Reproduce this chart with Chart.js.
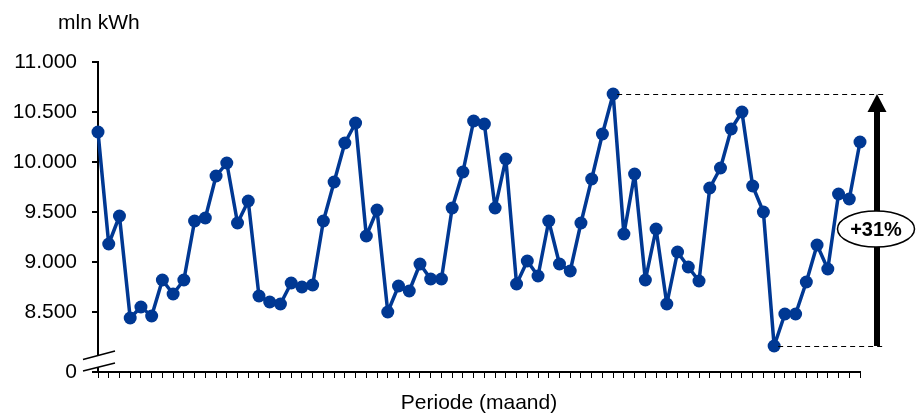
<!DOCTYPE html>
<html>
<head>
<meta charset="utf-8">
<title>Elektriciteitsverbruik per maand</title>
<script src="https://cdn.jsdelivr.net/npm/chart.js@4.4.1/dist/chart.umd.min.js"></script>
<style>
    html, body { margin: 0; padding: 0; background: #fff; }
    .chart-box { width: 916px; height: 414px; position: relative; }
</style>
</head>
<body>
<div class="chart-box"><canvas id="usageChart"></canvas></div>
<script>
        // Monthly usage, mln kWh
        const consumption = [
            10300, 9180, 9460, 8440, 8550, 8460, 8820, 8680, 8820, 9410, 9440, 9860,
            9990, 9390, 9610, 8660, 8600, 8580, 8790, 8750, 8770, 9410, 9800, 10190,
            10390, 9260, 9520, 8500, 8760, 8710, 8980, 8830, 8830, 9540, 9900, 10410,
            10380, 9540, 10030, 8780, 9010, 8860, 9410, 8980, 8910, 9390, 9830, 10280,
            10680, 9280, 9880, 8820, 9330, 8580, 9100, 8950, 8810, 9740, 9940, 10330,
            10500, 9760, 9500, 8160, 8480, 8480, 8800, 9170, 8930, 9680, 9630, 10200
        ];

        // one category per month, no visible labels
        const periods = consumption.map((v, i) => String(i + 1));

        // y axis: broken axis, bottom tick is shown as 0
        const yTicks = [8500, 9000, 9500, 10000, 10500, 11000];
        const yBreakValue = 7900;
        const yMax = 11000;

        const unitLabel = 'mln kWh';
        const xTitle = 'Periode (maand)';

        const FONT = "'Liberation Sans', Arial, Helvetica, sans-serif";
        const LINE_BLUE = '#003893';

        function formatNumber(v) {
            return String(v).replace(/\B(?=(\d{3})+(?!\d))/g, '.');
        }

        // axis break, unit label and the +% arrow
        const extrasPlugin = {
            id: 'extras',
            afterDraw(chart) {
                const ctx = chart.ctx;
                const x = chart.scales.x;
                const y = chart.scales.y;
                ctx.save();

                // unit label above the y axis
                ctx.fillStyle = '#000';
                ctx.font = '21px ' + FONT;
                ctx.textAlign = 'left';
                ctx.textBaseline = 'alphabetic';
                ctx.fillText(unitLabel, 58, 29);

                // axis break (two slashes on the y axis)
                const axisX = x.left;
                const b0 = y.bottom;
                ctx.fillStyle = '#fff';
                ctx.beginPath();
                ctx.moveTo(axisX - 15, b0 - 12.5);
                ctx.lineTo(axisX + 17, b0 - 21);
                ctx.lineTo(axisX + 17, b0 - 9);
                ctx.lineTo(axisX - 15, b0 - 1);
                ctx.closePath();
                ctx.fill();
                ctx.strokeStyle = '#000';
                ctx.lineWidth = 1.5;
                ctx.beginPath();
                ctx.moveTo(axisX - 15, b0 - 12.5);
                ctx.lineTo(axisX + 17, b0 - 21);
                ctx.moveTo(axisX - 15, b0 - 1);
                ctx.lineTo(axisX + 17, b0 - 9);
                ctx.stroke();

                // max / min reference lines
                const maxVal = Math.max(...consumption);
                const minVal = Math.min(...consumption);
                const maxX = x.getPixelForValue(consumption.indexOf(maxVal));
                const minX = x.getPixelForValue(consumption.indexOf(minVal));
                const maxY = y.getPixelForValue(maxVal);
                const minY = y.getPixelForValue(minVal);
                const arrowX = 877;
                const lineEnd = 885;

                ctx.lineWidth = 1;
                ctx.setLineDash([5, 4]);
                ctx.beginPath();
                ctx.moveTo(maxX + 4, Math.round(maxY) + 0.5);
                ctx.lineTo(lineEnd, Math.round(maxY) + 0.5);
                ctx.moveTo(minX + 4, Math.round(minY) + 0.5);
                ctx.lineTo(lineEnd, Math.round(minY) + 0.5);
                ctx.stroke();
                ctx.setLineDash([]);

                // arrow
                ctx.lineWidth = 6;
                ctx.beginPath();
                ctx.moveTo(arrowX, minY);
                ctx.lineTo(arrowX, maxY + 16);
                ctx.stroke();
                ctx.fillStyle = '#000';
                ctx.beginPath();
                ctx.moveTo(arrowX, maxY);
                ctx.lineTo(arrowX + 9.5, maxY + 18);
                ctx.lineTo(arrowX - 9.5, maxY + 18);
                ctx.closePath();
                ctx.fill();

                // growth label in an ellipse
                const cy = (maxY + minY) / 2 + 9;
                ctx.fillStyle = '#fff';
                ctx.strokeStyle = '#000';
                ctx.lineWidth = 1.5;
                ctx.beginPath();
                ctx.ellipse(arrowX - 1, cy, 38.5, 18, 0, 0, Math.PI * 2);
                ctx.fill();
                ctx.stroke();
                const pct = Math.round((maxVal / minVal - 1) * 100);
                ctx.fillStyle = '#000';
                ctx.font = 'bold 20px ' + FONT;
                ctx.textAlign = 'center';
                ctx.textBaseline = 'middle';
                ctx.fillText('+' + pct + '%', arrowX - 1, cy + 1);

                ctx.restore();
            }
        };

        function initChart() {
            const ctx = document.getElementById('usageChart').getContext('2d');
            new Chart(ctx, {
                type: 'line',
                data: {
                    labels: periods,
                    datasets: [{
                        data: consumption,
                        borderColor: LINE_BLUE,
                        backgroundColor: LINE_BLUE,
                        borderWidth: 3.5,
                        borderJoinStyle: 'round',
                        borderCapStyle: 'round',
                        pointRadius: 6.5,
                        pointBorderWidth: 0,
                        pointBackgroundColor: LINE_BLUE,
                        tension: 0,
                        clip: false
                    }]
                },
                options: {
                    responsive: true,
                    maintainAspectRatio: false,
                    animation: false,
                    devicePixelRatio: 1,
                    layout: {
                        padding: { top: 62, right: 56, left: 0, bottom: 0 }
                    },
                    plugins: {
                        legend: { display: false },
                        tooltip: { enabled: false }
                    },
                    scales: {
                        x: {
                            type: 'category',
                            offset: false,
                            afterFit(scale) { scale.height = 42; },
                            ticks: { display: false },
                            grid: {
                                drawOnChartArea: false,
                                drawTicks: true,
                                tickLength: 6,
                                color: '#000',
                                lineWidth: 1
                            },
                            border: { color: '#000', width: 2 },
                            title: {
                                display: true,
                                text: xTitle,
                                color: '#000',
                                font: { family: FONT, size: 21, lineHeight: 1 },
                                padding: { top: 0, bottom: 0 }
                            }
                        },
                        y: {
                            min: yBreakValue,
                            max: yMax,
                            afterFit(scale) { scale.width = 98; },
                            afterBuildTicks(scale) {
                                scale.ticks = [yBreakValue].concat(yTicks).map(v => ({ value: v }));
                            },
                            ticks: {
                                color: '#000',
                                padding: 15,
                                font: { family: FONT, size: 21 },
                                callback: v => v === yBreakValue ? '0' : formatNumber(v)
                            },
                            grid: {
                                drawOnChartArea: false,
                                drawTicks: true,
                                tickLength: 6,
                                color: '#000',
                                lineWidth: 2
                            },
                            border: { color: '#000', width: 2 }
                        }
                    }
                },
                plugins: [extrasPlugin]
            });
        }

        window.onload = function() {
            initChart();
        }
</script>
</body>
</html>
